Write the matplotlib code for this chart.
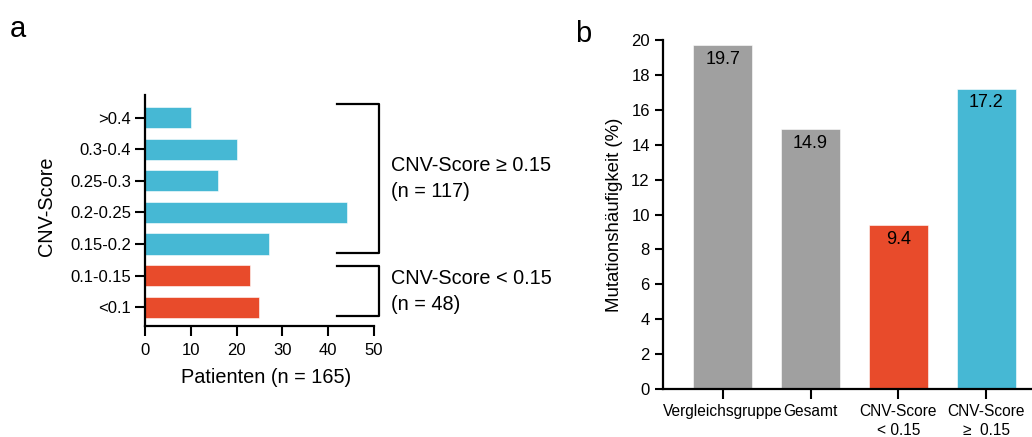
import matplotlib
matplotlib.use('Agg')
import matplotlib.pyplot as plt

plt.rcParams['font.family'] = ['Liberation Sans', 'DejaVu Sans']

# panel a data
cnv_bins = ['<0.1', '0.1-0.15', '0.15-0.2', '0.2-0.25', '0.25-0.3', '0.3-0.4', '>0.4']
patients = [25, 23, 27, 44, 16, 20, 10]
low_group = [True, True, False, False, False, False, False]

# panel b data
groups = ['Vergleichsgruppe', 'Gesamt', 'CNV-Score\n< 0.15', 'CNV-Score\n≥  0.15']
mut_freq = [19.7, 14.9, 9.4, 17.2]

BLUE = '#46B8D4'
RED = '#E84B2B'
GRAY = '#A0A0A0'

fig = plt.figure(figsize=(10.32, 4.37), dpi=100)

# ---- panel a ----
ax1 = fig.add_axes([0.1405, 0.254, 0.2219, 0.529])
cols = [RED if lo else BLUE for lo in low_group]
ax1.barh(range(len(cnv_bins)), patients, height=0.67, color=cols,
         edgecolor='white', linewidth=0.4)
ax1.set_yticks(range(len(cnv_bins)))
ax1.set_yticklabels(cnv_bins)
ax1.set_xlim(0, 50)
ax1.set_xticks([0, 10, 20, 30, 40, 50])
ax1.set_ylim(-0.6, 6.73)
ax1.set_xlabel('Patienten (n = 165)', fontsize=14.3)
ax1.xaxis.set_label_coords(0.53, -0.18)
ax1.set_ylabel('CNV-Score', fontsize=14.3)
ax1.yaxis.set_label_coords(-0.39, 0.52)
ax1.tick_params(labelsize=12, width=1.5, length=7, pad=3, color='black')
ax1.tick_params(axis='x', pad=5)
for s in ['top', 'right']:
    ax1.spines[s].set_visible(False)
for s in ['left', 'bottom']:
    ax1.spines[s].set_linewidth(1.6)

# brackets with group labels
def bracket(y0, y1, txt):
    ax1.plot([41.9, 51.1, 51.1, 41.9], [y1, y1, y0, y0], color='black',
             lw=1.6, clip_on=False)
    ax1.text(53.8, (y0 + y1) / 2, txt, fontsize=14.3, va='center', ha='left',
             linespacing=1.45)

bracket(1.71, 6.44, 'CNV-Score ≥ 0.15\n(n = 117)')
bracket(-0.29, 1.30, 'CNV-Score < 0.15\n(n = 48)')

fig.text(0.009, 0.915, 'a', fontsize=21)

# ---- panel b ----
ax2 = fig.add_axes([0.6424, 0.1098, 0.36, 0.7987])
bcols = [GRAY, GRAY, RED, BLUE]
ax2.bar(range(len(groups)), mut_freq, width=0.67, color=bcols,
        edgecolor='white', linewidth=0.4)
for i, v in enumerate(mut_freq):
    ax2.annotate(f'{v}', (i, v), xytext=(0, -4), textcoords='offset points',
                 ha='center', va='top', fontsize=13)
ax2.set_xticks(range(len(groups)))
ax2.set_xticklabels(groups, fontsize=11.2, linespacing=1.3)
ax2.set_xlim(-0.68, 3.55)
ax2.set_ylim(0, 20)
ax2.set_yticks(range(0, 21, 2))
ax2.set_ylabel('Mutationshäufigkeit (%)', fontsize=13.4, labelpad=6)
ax2.tick_params(axis='y', labelsize=12, width=1.5, length=6)
ax2.tick_params(axis='x', width=1.5, length=7, pad=4)
for s in ['top', 'right']:
    ax2.spines[s].set_visible(False)
for s in ['left', 'bottom']:
    ax2.spines[s].set_linewidth(1.6)

fig.text(0.557, 0.905, 'b', fontsize=21)

fig.savefig('out.png', dpi=100)
